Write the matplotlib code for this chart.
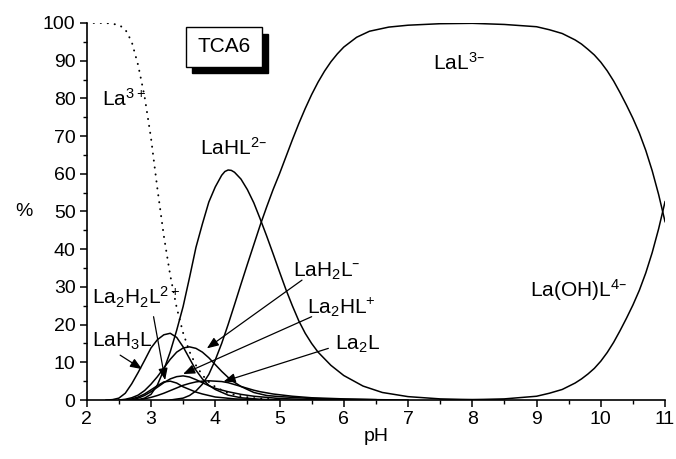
import matplotlib
matplotlib.use("Agg")
import matplotlib.pyplot as plt
from matplotlib.patches import Rectangle
from matplotlib.ticker import MultipleLocator

plt.rcParams['font.family'] = ['Liberation Sans', 'DejaVu Sans']
plt.rcParams['mathtext.default'] = 'regular'

# ---------------- data (pH, % of total La) ----------------
ph_la = [2.0, 2.3, 2.5, 2.6, 2.7, 2.8, 2.9, 3.0, 3.1, 3.2, 3.3, 3.4, 3.5, 3.6, 3.7, 3.8, 3.9, 4.0, 4.2, 4.4, 4.6, 5.0]
la3 = [100, 100, 99.5, 98.3, 95, 88.8, 80.5, 69.5, 56, 43.5, 33, 24.5, 17.8, 12.8, 9.2, 6.6, 4.8, 3.5, 1.8, 1.0, 0.5, 0.1]

ph_lah3l = [2.3, 2.4, 2.5, 2.6, 2.7, 2.8, 2.9, 3.0, 3.1, 3.2, 3.3, 3.4, 3.5, 3.6, 3.7, 3.8, 3.9, 4.0, 4.2, 4.4, 4.7, 5.0]
lah3l = [0, 0.1, 0.5, 1.8, 4.3, 7.3, 10.5, 13.8, 16, 17.3, 17.7, 16.6, 14.1, 11, 7.9, 5.6, 3.9, 2.8, 1.3, 0.6, 0.2, 0]

ph_lah2l = [2.5, 2.6, 2.7, 2.8, 2.9, 3.0, 3.1, 3.2, 3.3, 3.4, 3.5, 3.6, 3.7, 3.8, 3.9, 4.0, 4.1, 4.2, 4.3, 4.4, 4.6, 4.8, 5.0, 5.5, 6.0, 6.5]
lah2l = [0, 0.2, 0.6, 1.3, 2.5, 4.2, 6.2, 8.5, 10.8, 12.7, 13.8, 14.1, 13.7, 12.7, 11.2, 9.4, 7.6, 6.0, 4.7, 3.6, 2.0, 1.2, 0.9, 0.4, 0.2, 0.1]

ph_la2h2l = [2.6, 2.7, 2.8, 2.9, 3.0, 3.1, 3.2, 3.3, 3.4, 3.5, 3.6, 3.7, 3.8, 3.9, 4.0, 4.3, 4.6, 5.0]
la2h2l = [0, 0.3, 0.8, 1.6, 2.7, 3.8, 4.8, 5.0, 4.5, 3.5, 2.8, 2.1, 1.6, 1.2, 0.8, 0.3, 0.1, 0]

ph_la2hl = [2.7, 2.8, 2.9, 3.0, 3.1, 3.2, 3.3, 3.4, 3.5, 3.6, 3.7, 3.8, 3.9, 4.0, 4.2, 4.4, 4.6, 5.0, 5.5, 6.0]
la2hl = [0, 0.5, 1.2, 2.2, 3.4, 4.6, 5.6, 6.2, 6.4, 6.1, 5.4, 4.6, 3.8, 3.1, 2.2, 1.5, 1.0, 0.4, 0.1, 0]

ph_la2l = [2.8, 2.9, 3.0, 3.1, 3.2, 3.3, 3.4, 3.5, 3.6, 3.7, 3.8, 3.9, 4.0, 4.1, 4.2, 4.3, 4.4, 4.5, 4.6, 4.7, 4.8, 4.9, 5.0, 5.2, 5.5, 6.0, 6.5, 7.0]
la2l = [0, 0.3, 0.7, 1.2, 1.8, 2.5, 3.2, 3.9, 4.4, 4.8, 5.0, 5.1, 5.0, 4.9, 4.6, 4.1, 3.6, 3.1, 2.6, 2.2, 1.9, 1.6, 1.4, 1.0, 0.6, 0.3, 0.1, 0]

ph_lahl = [2.6, 2.8, 2.9, 3.0, 3.1, 3.2, 3.3, 3.4, 3.5, 3.6, 3.7, 3.8, 3.9, 4.0, 4.1, 4.15, 4.2, 4.25, 4.3, 4.4, 4.5, 4.6,
           4.7, 4.8, 4.9, 5.0, 5.1, 5.2, 5.3, 5.4, 5.5, 5.6, 5.8, 6.0, 6.3, 6.6, 7.0, 7.5, 8.0, 8.5]
lahl = [0, 0.1, 0.5, 1.5, 4, 8, 12.8, 18.5, 24.8, 32.5, 40.5, 46.7, 52.5, 56.5, 59.6, 60.6, 61, 60.9, 60.4, 58.6, 55.8, 52.3,
        48, 43.5, 38.8, 34, 29.3, 25, 21, 17.7, 15, 12.7, 9.2, 6.5, 3.7, 2.0, 0.9, 0.3, 0.1, 0]

ph_lal = [3.3, 3.5, 3.6, 3.7, 3.8, 3.9, 4.0, 4.1, 4.2, 4.3, 4.4, 4.5, 4.6, 4.7, 4.8, 4.9, 5.0, 5.1, 5.2, 5.3, 5.4, 5.5, 5.6,
          5.7, 5.8, 5.9, 6.0, 6.2, 6.4, 6.7, 7.0, 7.5, 8.0, 8.5, 9.0, 9.2, 9.4, 9.6, 9.7, 9.8, 9.9, 10.0, 10.1, 10.2, 10.3,
          10.4, 10.5, 10.6, 10.7, 10.8, 10.9, 11.0]
lal = [0, 0.5, 1.2, 2.4, 4.2, 6.8, 10.6, 15, 20, 25.3, 30.7, 36, 41.2, 46.4, 51.2, 55.8, 60, 64.5, 69, 73.3, 77.3, 81, 84.3,
       87.2, 89.7, 91.8, 93.6, 96.2, 97.8, 98.9, 99.4, 99.8, 99.9, 99.6, 99, 98.2, 97.2, 95.5, 94.4, 93, 91.5, 89.6, 87.3, 84.6, 81.5,
       78.2, 74.7, 70.8, 66.2, 60.8, 54.5, 47.3]

ph_laohl = [7.5, 8.0, 8.5, 9.0, 9.2, 9.4, 9.6, 9.7, 9.8, 9.9, 10.0, 10.1, 10.2, 10.3, 10.4, 10.5, 10.6, 10.7, 10.8, 10.9, 11.0]
laohl = [0, 0.1, 0.3, 1.0, 1.8, 2.8, 4.5, 5.6, 6.9, 8.4, 10.3, 12.6, 15.3, 18.4, 21.7, 25.2, 29.1, 33.7, 39.1, 45.4, 52.6]

# ---------------- figure ----------------
fig = plt.figure(figsize=(6.76, 4.59), dpi=100)
ax = fig.add_axes([0.1283, 0.1285, 0.8555, 0.8215])

lw = 1.1
ax.plot(ph_la, la3, color='black', lw=1.4, linestyle=(0, (0.1, 3.5)), dash_capstyle='round')
for x, y in [(ph_lah3l, lah3l), (ph_lah2l, lah2l), (ph_la2h2l, la2h2l), (ph_la2hl, la2hl),
             (ph_la2l, la2l), (ph_lahl, lahl), (ph_lal, lal), (ph_laohl, laohl)]:
    ax.plot(x, y, color='black', lw=lw, solid_joinstyle='round')

ax.set_xlim(2, 11)
ax.set_ylim(0, 100)
ax.xaxis.set_major_locator(MultipleLocator(1))
ax.xaxis.set_minor_locator(MultipleLocator(0.5))
ax.yaxis.set_major_locator(MultipleLocator(10))
ax.yaxis.set_minor_locator(MultipleLocator(5))
for s in ['top', 'right']:
    ax.spines[s].set_visible(False)
for s in ['left', 'bottom']:
    ax.spines[s].set_linewidth(1.2)
ax.tick_params(which='major', direction='out', length=5, width=1.1, labelsize=14, colors='black', pad=3)
ax.tick_params(which='minor', direction='out', length=3, width=1.0)

ax.set_xlabel('pH', fontsize=14, labelpad=0)
ax.set_ylabel('%', fontsize=14, rotation=0, labelpad=14, va='center')

fs = 15
ax.text(2.23, 78, r'La$^{3+}$', fontsize=fs, va='baseline')
ax.text(3.76, 65, r'LaHL$^{2–}$', fontsize=fs, va='baseline')
ax.text(7.39, 87.5, r'LaL$^{3–}$', fontsize=fs, va='baseline')
ax.text(8.9, 27.3, r'La(OH)L$^{4–}$', fontsize=fs, va='baseline')
ax.text(5.21, 32.6, r'LaH$_2$L$^{–}$', fontsize=fs, va='baseline')
ax.text(5.43, 23.0, r'La$_2$HL$^{+}$', fontsize=fs, va='baseline')
ax.text(5.86, 13.3, r'La$_2$L', fontsize=fs, va='baseline')
ax.text(2.08, 25.2, r'La$_2$H$_2$L$^{2+}$', fontsize=fs, va='baseline')
ax.text(2.08, 14.1, r'LaH$_3$L', fontsize=fs, va='baseline')

arrows = [((5.35, 31.8), (3.87, 13.7)),
          ((5.50, 22.1), (3.50, 6.9)),
          ((5.76, 13.7), (4.13, 4.9)),
          ((3.04, 22.1), (3.22, 5.3)),
          ((2.52, 11.9), (2.86, 8.2))]
for tail, head in arrows:
    ax.annotate('', xy=head, xytext=tail,
                arrowprops=dict(arrowstyle='-|>,head_length=0.5,head_width=0.2', lw=0.9, color='black',
                                mutation_scale=14, shrinkA=0, shrinkB=0))

# TCA6 box with shadow
bx0, bx1, by0, by1 = 3.545, 4.723, 88.4, 99.0
ax.add_patch(Rectangle((bx0 + 0.093, by0 - 1.8), bx1 - bx0, by1 - by0, facecolor='black',
                       edgecolor='black', clip_on=False, zorder=4))
ax.add_patch(Rectangle((bx0, by0), bx1 - bx0, by1 - by0, facecolor='white',
                       edgecolor='black', lw=1.0, clip_on=False, zorder=5))
ax.text((bx0 + bx1) / 2, (by0 + by1) / 2, 'TCA6', fontsize=fs, ha='center', va='center', zorder=6)

fig.savefig('out.png', dpi=100)
